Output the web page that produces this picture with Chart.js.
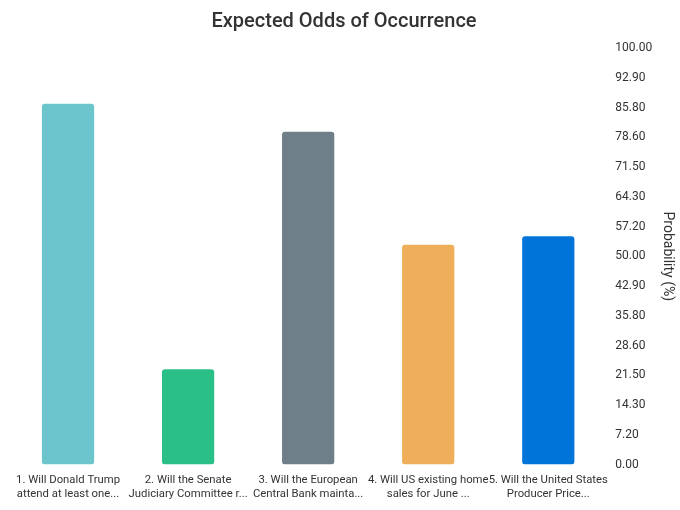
<!DOCTYPE html>
<html lang="en">
<head>
  <meta charset="UTF-8">
  <title>Expected Odds of Occurrence</title>
  <script src="https://cdn.jsdelivr.net/npm/chart.js"></script>
  <style>
    body {
      margin: 0;
      background: #fff;
      font-family: Roboto, sans-serif;
    }

    #chart-container {
      width: 680px;
      height: 510px;
    }
  </style>
</head>
<body>
  <div id="chart-container">
    <canvas id="oddsChart"></canvas>
  </div>

  <script>
    const categories = [
      ["1. Will Donald Trump", "attend at least one..."],
      ["2. Will the Senate", "Judiciary Committee r..."],
      ["3. Will the European", "Central Bank mainta..."],
      ["4. Will US existing home", "sales for June ..."],
      ["5. Will the United States", "Producer Price..."]
    ];
    const probabilities = [86.6, 22.9, 79.9, 52.8, 54.8];
    const barColors = ["#6CC5CD", "#2BBF88", "#6E7F8A", "#EFAE59", "#0074D9"];
    const tickLabels = [
      "0.00", "7.20", "14.30", "21.50", "28.60", "35.80", "42.90", "50.00",
      "57.20", "64.30", "71.50", "78.60", "85.80", "92.90", "100.00"
    ];

    const textColor = '#333';

    const ctx = document.getElementById('oddsChart').getContext('2d');
    new Chart(ctx, {
      type: 'bar',
      data: {
        labels: categories,
        datasets: [{
          data: probabilities,
          backgroundColor: barColors,
          borderRadius: 3,
          borderSkipped: false,
          barPercentage: 0.435,
          categoryPercentage: 1
        }]
      },
      options: {
        responsive: true,
        maintainAspectRatio: false,
        animation: false,
        layout: {
          padding: { left: 8, right: 0, top: 0, bottom: 0 }
        },
        plugins: {
          legend: { display: false },
          tooltip: { enabled: false },
          title: {
            display: true,
            text: 'Expected Odds of Occurrence',
            color: textColor,
            font: { family: 'Roboto', size: 20, weight: '500' },
            padding: { top: 10, bottom: 14 }
          }
        },
        scales: {
          x: {
            grid: { display: false, drawTicks: false },
            border: { display: false },
            ticks: {
              color: textColor,
              font: { family: 'Roboto', size: 11.3, lineHeight: 1.3 },
              maxRotation: 0,
              autoSkip: false,
              padding: 8
            }
          },
          y: {
            position: 'right',
            min: 0,
            max: 100,
            grid: { display: false, drawTicks: false },
            border: { display: false },
            afterBuildTicks: function (axis) {
              axis.ticks = tickLabels.map((t, i) => ({ value: i * 100 / (tickLabels.length - 1) }));
            },
            ticks: {
              color: textColor,
              font: { family: 'Roboto', size: 12 },
              padding: 7,
              callback: function (value, index) {
                return tickLabels[index];
              }
            },
            title: {
              display: true,
              text: 'Probability (%)',
              color: textColor,
              font: { family: 'Roboto', size: 14 },
              padding: { top: 4, bottom: 0 }
            }
          }
        }
      }
    });
  </script>
</body>
</html>
